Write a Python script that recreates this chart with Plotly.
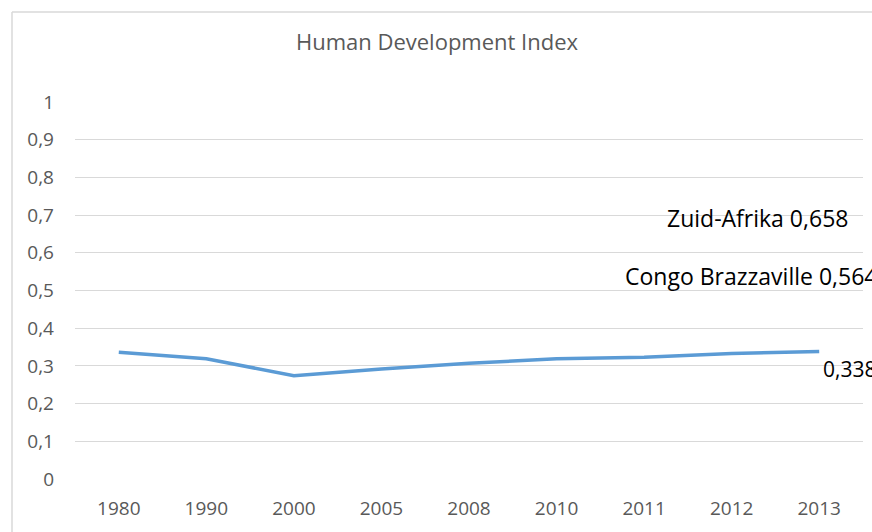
import plotly.graph_objects as go

years = ["1980", "1990", "2000", "2005", "2008", "2010", "2011", "2012", "2013"]
hdi_values = [0.336, 0.319, 0.274, 0.292, 0.307, 0.319, 0.323, 0.333, 0.338]
end_label = "0,338"
y_ticks = [0, 0.1, 0.2, 0.3, 0.4, 0.5, 0.6, 0.7, 0.8, 0.9, 1]
y_tick_labels = ["0", "0,1", "0,2", "0,3", "0,4", "0,5", "0,6", "0,7", "0,8", "0,9", "1"]
note_texts = ["Zuid-Afrika 0,658", "Congo Brazzaville 0,564"]
note_y = [0.692, 0.538]

W, H = 872, 532
ML, MR, MT, MB = 75, 9, 102, 53
pw, ph = W - ML - MR, H - MT - MB
FONT = "Open Sans"

fig = go.Figure()
fig.add_trace(go.Scatter(
    x=years, y=hdi_values, mode="lines",
    line=dict(color="#5B9BD5", width=3.5), hoverinfo="skip", showlegend=False))

# data label for the last point (category index of the last year)
fig.add_annotation(text=end_label, x=len(years) - 1, y=hdi_values[-1], xref="x", yref="y",
                   xanchor="left", yanchor="middle", xshift=2, yshift=-17, showarrow=False,
                   font=dict(family=FONT, size=21, color="#000000"))

# outer chart-area border (top and left edges visible in the crop)
bx0 = (12 - ML) / pw
by1 = 1 + (MT - 12) / ph
fig.add_shape(type="line", xref="paper", yref="paper", x0=bx0, x1=(W + 20 - ML) / pw,
              y0=by1, y1=by1, line=dict(color="#D9D9D9", width=1.5), layer="below")
fig.add_shape(type="line", xref="paper", yref="paper", x0=bx0, x1=bx0,
              y0=-(MB + 20) / ph, y1=by1, line=dict(color="#D9D9D9", width=1.5), layer="below")

fig.add_annotation(text=note_texts[0], xref="paper", yref="y", x=(850 - ML) / pw, y=note_y[0],
                   xanchor="right", yanchor="middle", showarrow=False,
                   font=dict(family=FONT, size=23, color="#000000"))
fig.add_annotation(text=note_texts[1], xref="paper", yref="y", x=(623 - ML) / pw, y=note_y[1],
                   xanchor="left", yanchor="middle", showarrow=False,
                   font=dict(family=FONT, size=23, color="#000000"))

fig.update_layout(
    width=W, height=H,
    margin=dict(l=ML, r=MR, t=MT, b=MB),
    paper_bgcolor="white", plot_bgcolor="white",
    title=dict(text="Human Development Index", x=437 / W, xanchor="center",
               y=1 - 42 / H, yanchor="middle",
               font=dict(family=FONT, size=22, color="#595959")),
    xaxis=dict(type="category", categoryorder="array", categoryarray=years,
               range=[-0.5, len(years) - 0.5],
               showgrid=False, zeroline=False, showline=False,
               ticks="", tickfont=dict(family=FONT, size=19, color="#595959"),
               ticklabelstandoff=16),
    yaxis=dict(range=[0, 1], tickvals=y_ticks, ticktext=y_tick_labels,
               showgrid=True, gridcolor="#D9D9D9", gridwidth=1, zeroline=False,
               showline=False, ticks="", ticklabelstandoff=20,
               tickfont=dict(family=FONT, size=19, color="#595959")),
)

fig.write_html("out.html", config={"displayModeBar": False},
               post_script="document.body.style.margin='0px';")
